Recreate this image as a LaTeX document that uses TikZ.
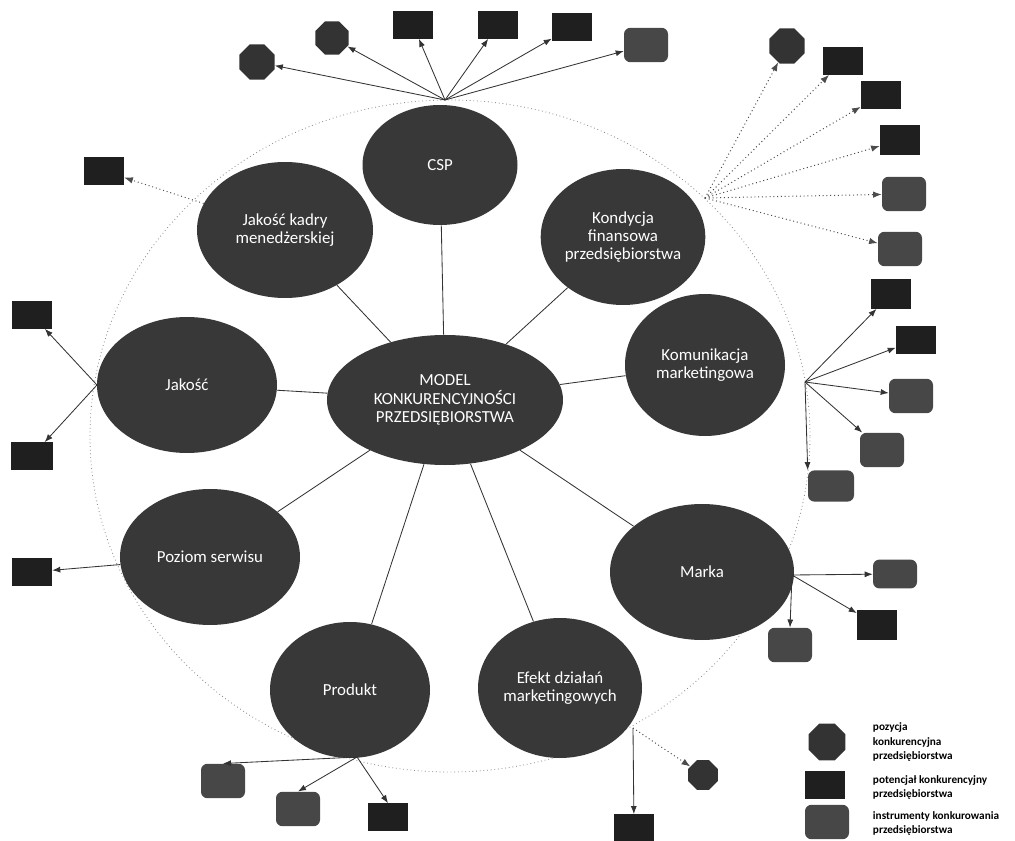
\documentclass[tikz,border=0pt]{standalone}
\usepackage{fontspec}
\setsansfont{Carlito}
\usepackage{tikz}
\usetikzlibrary{shapes,arrows,arrows.meta}

\begin{document}
\begin{tikzpicture}[x=0.25mm, y=-0.25mm, font=\sffamily,
factor/.style={ellipse, fill=black!78, text=white, inner sep=0, align=center, font=\sffamily\fontsize{12}{13}\selectfont},
poz/.style={regular polygon, regular polygon sides=8, fill=black!80, minimum size=9.5mm, inner sep=0},
pot/.style={rectangle, fill=black!88, minimum width=10mm, minimum height=6.8mm, inner sep=0},
instr/.style={rectangle, rounded corners=1.6mm, fill=black!72, minimum width=11mm, minimum height=8.6mm, inner sep=0},
legtext/.style={font=\sffamily\bfseries\fontsize{8}{10}\selectfont, align=left, anchor=west},
link/.style={black!80, line width=0.6pt},
dotlink/.style={black!70, dotted, line width=0.7pt}]
\useasboundingbox (0,0) rectangle (1015,841);
\draw[black!45, dotted, line width=0.6pt] (450,436) ellipse [x radius=90mm, y radius=84mm];
%text width
\node[factor, minimum width=59mm, minimum height=32.5mm] (model) at (445,400) {MODEL\\KONKURENCYJNOŚCI\\PRZEDSIĘBIORSTWA};
\node[factor, minimum width=38.75mm, minimum height=30mm] (csp) at (440,165) {CSP};
\node[factor, minimum width=44mm, minimum height=34mm] (kadra) at (285,230) {Jakość kadry\\menedżerskiej};
\node[factor, minimum width=40mm, minimum height=34mm] (kond) at (623,237) {Kondycja\\finansowa\\przedsiębiorstwa};
\node[factor, minimum width=45mm, minimum height=34mm] (jakosc) at (187,385) {Jakość};
\node[factor, minimum width=40mm, minimum height=35.5mm] (komun) at (705,365) {Komunikacja\\marketingowa};
\node[factor, minimum width=45mm, minimum height=34mm] (poziom) at (210,557) {Poziom serwisu};
\node[factor, minimum width=46mm, minimum height=34mm] (marka) at (702,572) {Marka};
\node[factor, minimum width=40mm, minimum height=34mm] (produkt) at (350,690) {Produkt};
\node[factor, minimum width=41mm, minimum height=35mm] (efekt) at (560,688) {Efekt działań\\marketingowych};
\draw[link] (model) -- (csp);
\draw[link] (model) -- (kadra);
\draw[link] (model) -- (kond);
\draw[link] (model) -- (jakosc);
\draw[link] (model) -- (komun);
\draw[link] (model) -- (poziom);
\draw[link] (model) -- (marka);
\draw[link] (model) -- (produkt);
\draw[link] (model) -- (efekt);
% CSP
\coordinate (cspf) at (445,100);
\node[poz] (c1) at (257,62) {};
\node[poz, minimum size=9mm] (c2) at (332,38) {};
\node[pot] (c3) at (413,25) {};
\node[pot] (c4) at (498,25) {};
\node[pot] (c5) at (572,27) {};
\node[instr] (c6) at (646,45) {};
\draw [link, -Latex] (cspf) -- (c1);
\draw [link, -Latex] (cspf) -- (c2);
\draw [link, -Latex] (cspf) -- (c3);
\draw [link, -Latex] (cspf) -- (c4);
\draw [link, -Latex] (cspf) -- (c5);
\draw [link, -Latex] (cspf) -- (c6);
% kondycja
\coordinate (kondf) at (705,198);
\node[poz] (f1) at (787,46) {};
\node[pot] (f2) at (843,61) {};
\node[pot] (f3) at (881,95) {};
\node[pot, minimum height=7.3mm] (f4) at (900,140) {};
\node[instr] (f5) at (904,194) {};
\node[instr] (f6) at (900,249) {};
\draw [dotlink, -Latex] (kondf) -- (f1);
\draw [dotlink, -Latex] (kondf) -- (f2);
\draw [dotlink, -Latex] (kondf) -- (f3);
\draw [dotlink, -Latex] (kondf) -- (f4);
\draw [dotlink, -Latex] (kondf) -- (f5);
\draw [dotlink, -Latex] (kondf) -- (f6);
% komunikacja
\coordinate (komf) at (805,382);
\node[pot, minimum height=7.3mm] (k1) at (891,294) {};
\node[pot] (k2) at (916,340) {};
\node[instr] (k3) at (911,396) {};
\node[instr] (k4) at (882,450) {};
\node[instr, minimum width=11.5mm, minimum height=7.8mm] (k5) at (831,486) {};
\draw [link, -Latex] (komf) -- (k1);
\draw [link, -Latex] (komf) -- (k2);
\draw [link, -Latex] (komf) -- (k3);
\draw [link, -Latex] (komf) -- (k4);
\draw [link, -Latex] (komf) -- (k5.north west);
% marka
\coordinate (markf) at (792,575);
\node[instr, minimum height=7.2mm] (m1) at (895,574) {};
\node[pot, minimum height=7.5mm] (m2) at (877,625) {};
\node[instr] (m3) at (790,645) {};
\draw [link, -Latex] (markf) -- (m1);
\draw [link, -Latex] (markf) -- (m2);
\draw [link, -Latex] (markf) -- (m3.north);
% efekt
\coordinate (efektf) at (633,728);
\node[pot] (e1) at (634,828) {};
\node[poz, minimum size=8mm] (e2) at (703,775) {};
\draw [link, -Latex] (efektf) -- (e1);
\draw [dotlink, -Latex] (efektf) -- (e2);
% produkt
\coordinate (prodf) at (357,757);
\node[instr] (p1) at (223,781) {};
\node[instr] (p2) at (298,809) {};
\node[pot] (p3) at (388,817) {};
\draw [link, -Latex] (prodf) -- (p1.north);
\draw [link, -Latex] (prodf) -- (p2.north);
\draw [link, -Latex] (prodf) -- (p3.north);
% jakosc, kadra, serwis
\coordinate (jakf) at (97,385);
\node[pot] (j1) at (32,315) {};
\node[pot, minimum width=10.5mm] (j2) at (32,456) {};
\draw [link, -Latex] (jakf) -- (j1);
\draw [link, -Latex] (jakf) -- (j2);
\node[pot] (kb) at (104,171) {};
\draw [dotlink, -Latex] (kadra) -- (kb);
\node[pot] (s1) at (32,572) {};
\draw [link, -Latex] (poziom) -- (s1);
% legenda
\node[poz, minimum size=10mm] (l1) at (827,742) {};
\node[legtext] (t1) at (868,742) {pozycja\\konkurencyjna\\przedsiębiorstwa};
\node[pot] (l2) at (825,785) {};
\node[legtext] (t2) at (868,787) {potencjał konkurencyjny\\przedsiębiorstwa};
\node[instr] (l3) at (827,822) {};
\node[legtext] (t3) at (868,823) {instrumenty konkurowania\\przedsiębiorstwa};
\end{tikzpicture}
\end{document}
